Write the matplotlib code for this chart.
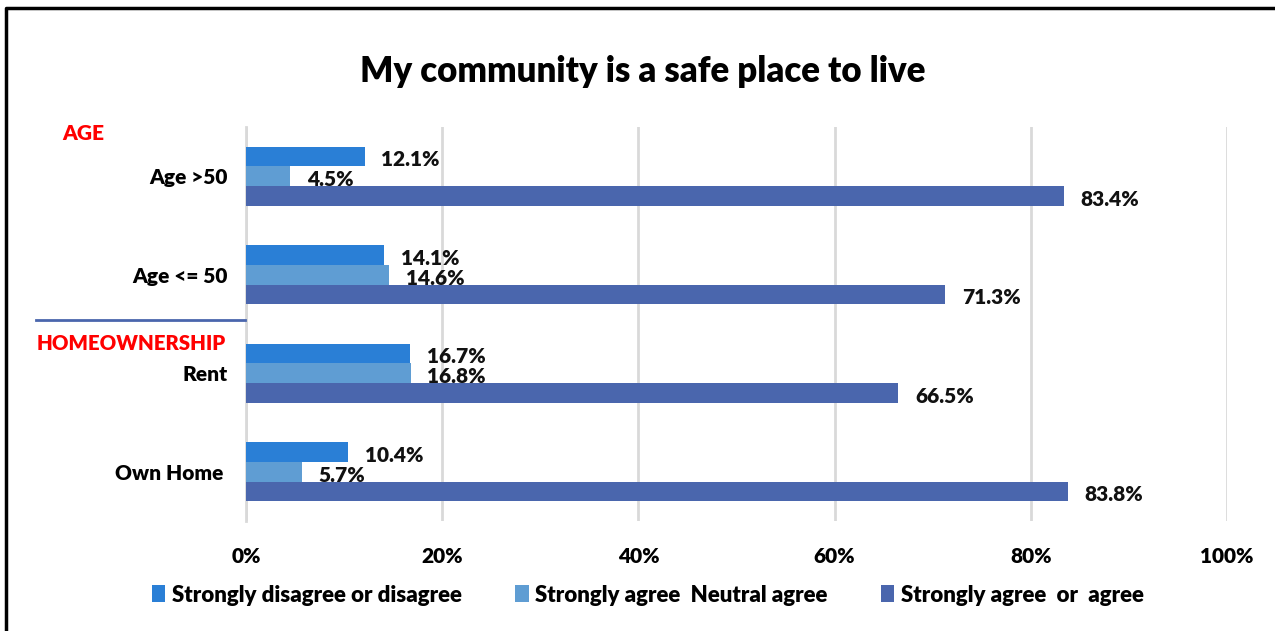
import matplotlib
matplotlib.use("Agg")
import matplotlib.pyplot as plt
from matplotlib.lines import Line2D
from matplotlib.patches import Patch

plt.rcParams['font.family'] = ['Lato', 'DejaVu Sans']
WEIGHT = "heavy"

categories = ["Own Home ", "Rent", "Age <= 50", "Age >50"]
disagree = [10.4, 16.7, 14.1, 12.1]
neutral = [5.7, 16.8, 14.6, 4.5]
agree = [83.8, 66.5, 71.3, 83.4]
series_names = ["Strongly disagree or disagree",
                "Strongly agree  Neutral agree",
                "Strongly agree  or  agree"]
colors = ["#2A7FD6", "#5F9DD3", "#4A66AD"]
xticks = [0, 20, 40, 60, 80, 100]
xtick_labels = ["0%", "20%", "40%", "60%", "80%", "100%"]

W, H = 1275, 631
fig = plt.figure(figsize=(W / 100, H / 100), dpi=100)
ax = fig.add_axes([246 / W, 1 - 521 / H, (1227 - 246) / W, (521 - 127) / H])

bar_h = 0.2
ypos = list(range(len(categories)))
offsets = [bar_h, 0.0, -bar_h]
for vals, off, col in zip([disagree, neutral, agree], offsets, colors):
    ys = [y + off for y in ypos]
    ax.barh(ys, vals, height=bar_h, color=col, zorder=3)
    for y, v in zip(ys, vals):
        ax.text(v + 1.7, y - 0.035, f"{v:.1f}%", va="center", ha="left",
                fontsize=15, fontweight=WEIGHT, color="#111111", zorder=4)

ax.set_xlim(0, 100)
ax.set_ylim(-0.5, 3.5)
ax.set_xticks(xticks)
ax.set_xticklabels(xtick_labels, fontsize=15, fontweight=WEIGHT)
ax.set_yticks(ypos)
ax.set_yticklabels(categories, fontsize=15, fontweight=WEIGHT)
ax.tick_params(axis="both", length=0)
ax.tick_params(axis="x", pad=19)
ax.tick_params(axis="y", pad=13)
ax.grid(axis="x", color="#D9D9D9", linewidth=2, zorder=0)
for s in ["top", "right", "bottom"]:
    ax.spines[s].set_visible(False)
ax.spines["left"].set_color("#D9D9D9")
ax.spines["left"].set_linewidth(2)

# Title
fig.text(643 / W, 1 - 71 / H, "My community is a safe place to live",
         ha="center", va="center", fontsize=25, fontweight=WEIGHT)

# Section headings and separator
fig.text(83 / W, 1 - 133 / H, "AGE", ha="center", va="center",
         fontsize=15, fontweight=WEIGHT, color="red")
fig.text(131 / W, 1 - 343 / H, "HOMEOWNERSHIP", ha="center", va="center",
         fontsize=14.7, fontweight=WEIGHT, color="red")
fig.add_artist(Line2D([36 / W, 245 / W], [1 - 320 / H, 1 - 320 / H],
                      transform=fig.transFigure, color="#4A66AD", linewidth=2))

# Outer frame (top and left edges)
fig.add_artist(Line2D([5.5 / W, 5.5 / W, 1.0], [0.0, 1 - 7.5 / H, 1 - 7.5 / H],
                      transform=fig.transFigure, color="black", linewidth=2.5))

# Legend
handles = [Patch(facecolor=c, edgecolor="none") for c in colors]
fig.legend(handles, series_names, loc="center", bbox_to_anchor=(648 / W, 1 - 595 / H),
           ncol=3, frameon=False, prop={"size": 16, "weight": WEIGHT},
           handlelength=0.6, handleheight=0.8, handletextpad=0.3, columnspacing=2.4)

fig.savefig("out.png", dpi=100)
